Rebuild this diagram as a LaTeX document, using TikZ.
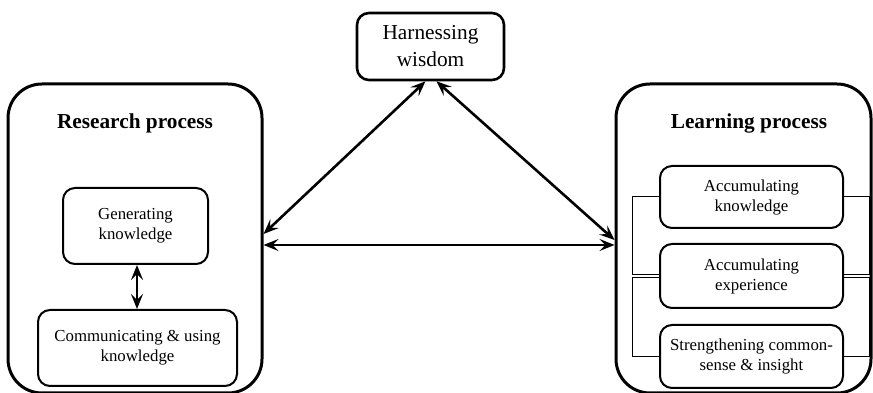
\documentclass[tikz,border=0pt]{standalone}
\usepackage{fontspec}
\setmainfont{Liberation Serif}
\usepackage{tikz}
\usetikzlibrary{calc, positioning, arrows.meta}
\tikzset{
    outer/.style={rectangle, draw=black, line width=3pt, rounded corners=34pt, minimum width=254pt, minimum height=309pt},
    inner/.style={rectangle, draw=black, line width=2pt, rounded corners=12pt, align=center, font=\fontsize{16.8}{20}\selectfont, inner sep=2pt},
    title/.style={font=\fontsize{21.3}{25}\selectfont\bfseries},
    dbl/.style={{Stealth[length=15pt, width=12pt, inset=6pt]}-{Stealth[length=15pt, width=12pt, inset=6pt]}, line width=2.6pt},
    link/.style={line width=1pt}
}
\begin{document}
\begin{tikzpicture}[x=1pt, y=1pt,
        wisdom/.style={inner, line width=2.6pt, font=\fontsize{21.3}{27}\selectfont}
    ]
        \useasboundingbox (0,0) rectangle (873,393);

        % Top
        \node[wisdom, minimum width=147pt, minimum height=67pt] (harness) at (430.5,346.5) {Harnessing\\wisdom};

        % Research process
        \node[outer] (research) at (135,154.5) {};
        \node[title] (restitle) at (135,270) {Research process};
        \node[inner, minimum width=145pt, minimum height=76pt] (gen) at (135.5,167) {Generating\\knowledge};
        \node[inner, minimum width=199pt, minimum height=76pt] (comm) at (137.5,45) {Communicating \& using\\knowledge};
        \draw[dbl] ([xshift=1.5pt]gen.south) -- ([xshift=1.5pt]gen.south |- comm.north);

        % Learning process
        \node[outer, minimum width=255pt] (learning) at (743.5,154.5) {};
        \node[title] (learntitle) at (749,270) {Learning process};
        \node[inner, minimum width=183pt, minimum height=62pt] (acck) at (751.5,196) {Accumulating\\knowledge};
        \node[inner, minimum width=183pt, minimum height=64pt] (acce) at (751.5,117) {Accumulating\\experience};
        \node[inner, minimum width=183pt, minimum height=63pt] (streng) at (751.5,36.5) {Strengthening common-\\sense \& insight};

        % Brackets
        \draw[link] (acck.west) -- ++(-27,0) |- ([yshift=1.5pt]acce.west);
        \draw[link] ([yshift=-1.5pt]acce.west) -- ++(-27,0) |- (streng.west);
        \draw[link] (acck.east) -- ++(25,0) |- ([yshift=1.5pt]acce.east);
        \draw[link] ([yshift=-1.5pt]acce.east) -- ++(25,0) |- (streng.east);

        % Links between processes
        \draw[dbl] ([xshift=-5pt]harness.south) -- ([yshift=4.5pt]research.east);
        \draw[dbl] ([xshift=6pt]harness.south) -- ([yshift=-1.5pt]learning.west);
        \draw[dbl] ([yshift=-6.5pt]research.east) -- ([yshift=-6.5pt]learning.west);

    \end{tikzpicture}
\end{document}
